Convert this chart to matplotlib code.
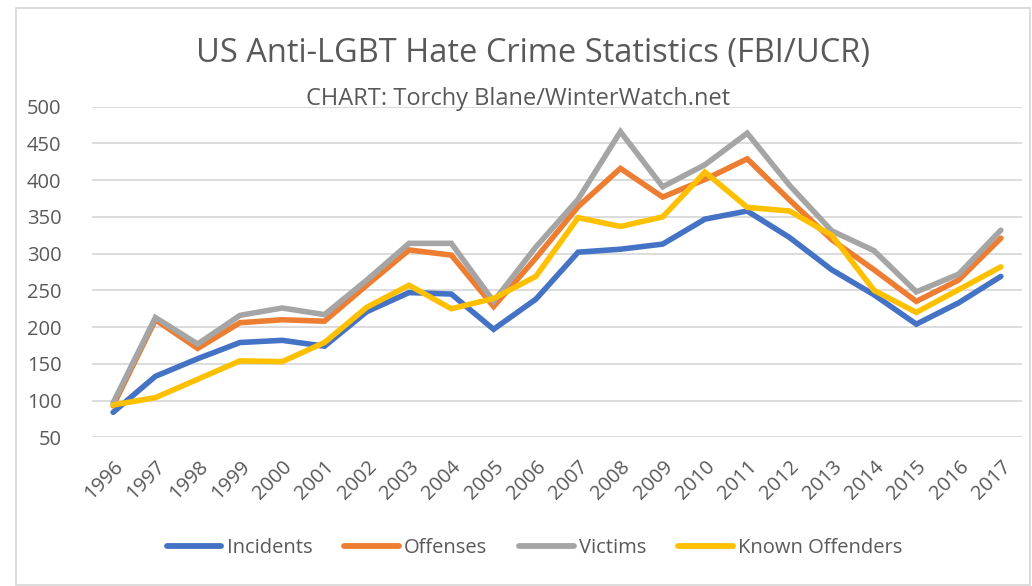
import matplotlib
matplotlib.use("Agg")
import matplotlib.pyplot as plt
from matplotlib.patches import Rectangle

years = list(range(1996, 2018))
incidents = [84, 133, 157, 179, 182, 174, 221, 247, 245, 197, 238, 302, 306, 313, 347, 358, 322, 278, 244, 204, 233, 269]
offenses = [93, 210, 171, 206, 210, 208, 257, 305, 298, 228, 294, 364, 416, 377, 401, 429, 373, 319, 278, 235, 264, 321]
victims = [97, 213, 177, 216, 226, 217, 264, 314, 314, 235, 309, 374, 466, 391, 421, 464, 393, 331, 304, 248, 272, 332]
known_offenders = [94, 104, 129, 154, 153, 179, 227, 257, 225, 239, 269, 349, 337, 350, 411, 363, 358, 325, 250, 220, 251, 282]

series = [
    ("Incidents", incidents, "#4472C4"),
    ("Offenses", offenses, "#ED7D31"),
    ("Victims", victims, "#A5A5A5"),
    ("Known Offenders", known_offenders, "#FFC000"),
]

plt.rcParams['font.family'] = ['Open Sans', 'DejaVu Sans']
txt = "#595959"

fig = plt.figure(figsize=(10.32, 5.86), dpi=100)
W, H = 1032, 586
ax = fig.add_axes([92 / W, 1 - 437.3 / H, (1022 - 92) / W, (437.3 - 106.7) / H])

for name, vals, col in series:
    ax.plot(years, vals, color=col, lw=4, label=name, solid_capstyle='round', solid_joinstyle='miter')

ax.set_xlim(1995.5, 2017.5)
ax.set_ylim(50, 500)
ax.set_yticks(range(50, 501, 50))
ax.set_xticks(years)
ax.set_xticklabels([str(y) for y in years], rotation=45, ha='right', rotation_mode='anchor')
ax.grid(axis='y', color='#D9D9D9', lw=1.3)
ax.set_axisbelow(True)
for s in ax.spines.values():
    s.set_visible(False)
ax.tick_params(axis='both', length=0, labelsize=14.5, labelcolor=txt)
ax.tick_params(axis='y', pad=22)
ax.tick_params(axis='x', pad=14)

fig.text(0.516, 1 - 62 / H, "US Anti-LGBT Hate Crime Statistics (FBI/UCR)", ha='center', va='baseline',
         fontsize=23.5, color=txt)
fig.text(0.502, 1 - 105 / H, "CHART: Torchy Blane/WinterWatch.net", ha='center', va='baseline',
         fontsize=17, color=txt)

leg = fig.legend(loc='center', bbox_to_anchor=(0.518, 1 - 548 / H), ncol=4, frameon=False,
                 fontsize=14.5, labelcolor=txt, handlelength=2.7, handletextpad=0.25, columnspacing=1.6)
for l in leg.get_lines():
    l.set_linewidth(4.2)

fig.patches.append(Rectangle((16 / W, 1 - 585 / H), (1030 - 16) / W, (585 - 8) / H,
                             transform=fig.transFigure, fill=False, edgecolor='#D9D9D9', lw=1.3))

fig.savefig("out.png", dpi=100)
